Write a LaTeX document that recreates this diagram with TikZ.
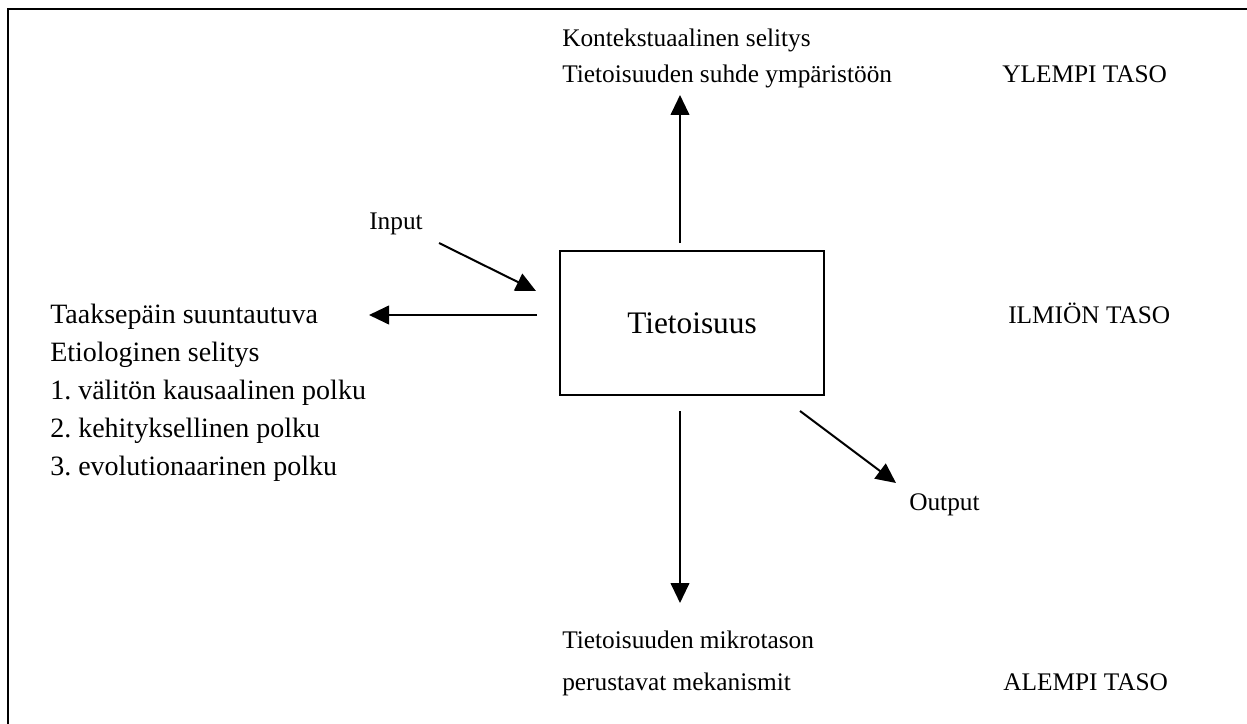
\documentclass[tikz,border=0pt]{standalone}
\usepackage{fontspec}
\setmainfont{Liberation Serif}
\usetikzlibrary{arrows.meta}
\frenchspacing
\tikzset{
  lbl/.style={anchor=base west, inner sep=0pt, font=\fontsize{19}{22}\selectfont},
  sidelbl/.style={anchor=base west, inner sep=0pt, font=\fontsize{21}{24}\selectfont},
  arr/.style={line width=1.5pt, -{Triangle[length=15pt,width=14pt]}},
  centralbox/.style={draw, line width=1.1pt, minimum width=198pt, minimum height=108pt, inner sep=0pt, font=\fontsize{23.5}{28}\selectfont},
}
\begin{document}
\begin{tikzpicture}[x=0.75pt,y=-0.75pt]
\useasboundingbox (0,0) rectangle (1247,724);
% frame (only top and left edges fall inside the page)
\coordinate (ftl) at (8,9);
\coordinate (ftr) at (1260,9);
\coordinate (fbl) at (8,740);
\draw[line width=1.9pt] (ftr) -- (ftl) -- (fbl);

% central box
\node[centralbox] (core) at (692,323) {Tietoisuus};

% top labels
\node[lbl] (ctx1) at (562,47) {Kontekstuaalinen selitys};
\node[lbl] (ctx2) at (562,83) {Tietoisuuden suhde ympäristöön};
\node[lbl] (upper) at (1002,83) {YLEMPI TASO};

% left labels
\node[sidelbl] (back1) at (50,323) {Taaksepäin suuntautuva};
\node[sidelbl] (back2) at (50,361) {Etiologinen selitys};
\node[sidelbl] (back3) at (50,399) {1. välitön kausaalinen polku};
\node[sidelbl] (back4) at (50,437) {2. kehityksellinen polku};
\node[sidelbl] (back5) at (50,475) {3. evolutionaarinen polku};
\node[lbl] (phen) at (1008,323) {ILMIÖN TASO};

% input / output
\node[lbl] (input) at (369,229) {Input};
\node[lbl] (output) at (909,510) {Output};

% bottom labels
\node[lbl] (micro1) at (562,648) {Tietoisuuden mikrotason};
\node[lbl] (micro2) at (562,690) {perustavat mekanismit};
\node[lbl] (lower) at (1003,690) {ALEMPI TASO};

% arrow end points
\coordinate (upS) at (680,243);
\coordinate (upE) at (680,95);
\coordinate (dnS) at (680,411);
\coordinate (dnE) at (680,603);
\coordinate (lfS) at (537,315);
\coordinate (lfE) at (369,315);
\coordinate (inS) at (439,243);
\coordinate (inE) at (536,291);
\coordinate (outS) at (800,411);
\coordinate (outE) at (896,483);

\draw[arr] (upS) -- (upE);
\draw[arr] (dnS) -- (dnE);
\draw[arr] (lfS) -- (lfE);
\draw[arr] (inS) -- (inE);
\draw[arr] (outS) -- (outE);
\end{tikzpicture}
\end{document}
